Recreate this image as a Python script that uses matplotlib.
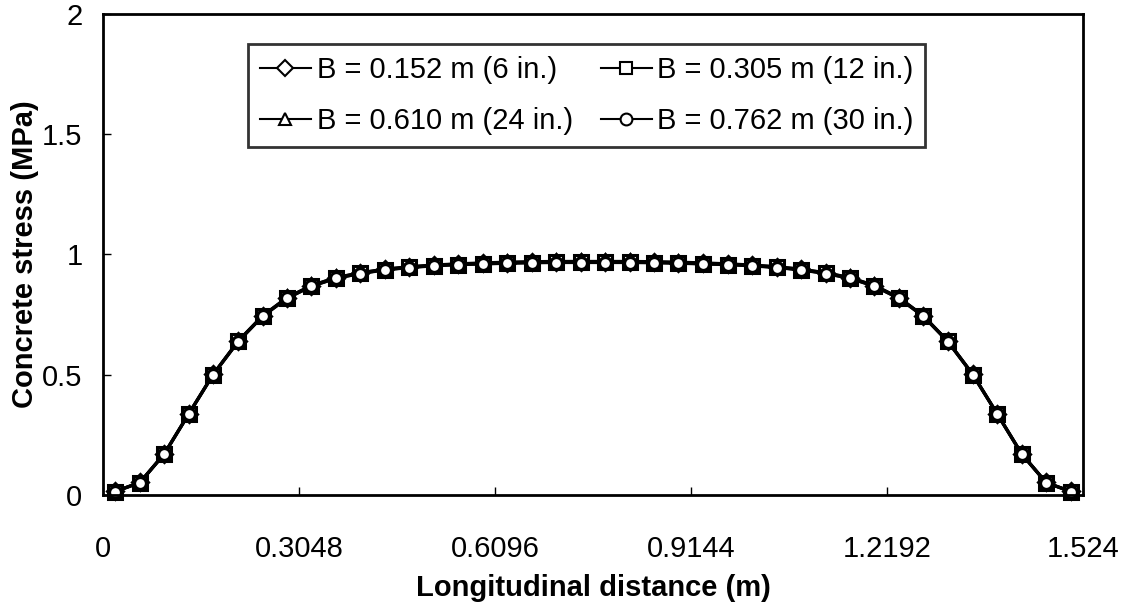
import numpy as np
import matplotlib.pyplot as plt

plt.rcParams["font.family"] = ["Liberation Sans", "DejaVu Sans"]

# measurement stations along the slab (40 stations, 0.0381 m apart)
distance = [0.019, 0.057, 0.095, 0.133, 0.171, 0.210, 0.248, 0.286, 0.324, 0.362,
            0.400, 0.438, 0.476, 0.514, 0.552, 0.591, 0.629, 0.667, 0.705, 0.743,
            0.781, 0.819, 0.857, 0.895, 0.933, 0.972, 1.010, 1.048, 1.086, 1.124,
            1.162, 1.200, 1.238, 1.276, 1.314, 1.353, 1.391, 1.429, 1.467, 1.505]

# concrete stress (MPa) for each bearing width
stress_b6 = [0.015, 0.052, 0.172, 0.338, 0.502, 0.640, 0.745, 0.820, 0.870, 0.903,
             0.923, 0.938, 0.948, 0.955, 0.960, 0.963, 0.966, 0.968, 0.969, 0.969,
             0.969, 0.969, 0.968, 0.966, 0.963, 0.960, 0.955, 0.948, 0.938, 0.923,
             0.903, 0.870, 0.820, 0.745, 0.640, 0.502, 0.338, 0.172, 0.052, 0.015]
stress_b12 = [0.014, 0.051, 0.170, 0.336, 0.500, 0.638, 0.743, 0.818, 0.868, 0.901,
              0.921, 0.936, 0.946, 0.953, 0.958, 0.961, 0.964, 0.966, 0.967, 0.967,
              0.967, 0.967, 0.966, 0.964, 0.961, 0.958, 0.953, 0.946, 0.936, 0.921,
              0.901, 0.868, 0.818, 0.743, 0.638, 0.500, 0.336, 0.170, 0.051, 0.014]
stress_b24 = [0.015, 0.052, 0.171, 0.337, 0.501, 0.640, 0.745, 0.821, 0.871, 0.904,
              0.924, 0.939, 0.949, 0.956, 0.961, 0.965, 0.968, 0.970, 0.971, 0.971,
              0.971, 0.971, 0.970, 0.968, 0.965, 0.961, 0.956, 0.949, 0.939, 0.924,
              0.904, 0.871, 0.821, 0.745, 0.640, 0.501, 0.337, 0.171, 0.052, 0.015]
stress_b30 = [0.014, 0.050, 0.169, 0.335, 0.499, 0.637, 0.742, 0.817, 0.867, 0.900,
              0.920, 0.935, 0.945, 0.952, 0.957, 0.960, 0.963, 0.965, 0.966, 0.966,
              0.966, 0.966, 0.965, 0.963, 0.960, 0.957, 0.952, 0.945, 0.935, 0.920,
              0.900, 0.867, 0.817, 0.742, 0.637, 0.499, 0.335, 0.169, 0.050, 0.014]

labels = ["B = 0.152 m (6 in.)", "B = 0.305 m (12 in.)",
          "B = 0.610 m (24 in.)", "B = 0.762 m (30 in.)"]
x_ticks = [0, 0.3048, 0.6096, 0.9144, 1.2192, 1.524]
x_tick_labels = ["0", "0.3048", "0.6096", "0.9144", "1.2192", "1.524"]
y_ticks = [0, 0.5, 1, 1.5, 2]
y_tick_labels = ["0", "0.5", "1", "1.5", "2"]

fig = plt.figure(figsize=(11.22, 6.05), dpi=100)
ax = fig.add_axes([0.092, 0.182, 0.873, 0.795])

series = [stress_b6, stress_b12, stress_b24, stress_b30]
markers = ["D", "s", "^", "o"]
sizes = [8, 10.5, 9, 8.5]
for vals, mk, ms, lab in zip(series, markers, sizes, labels):
    ax.plot(distance, vals, color="black", lw=2.2, marker=mk,
            markersize=ms, markerfacecolor="white",
            markeredgecolor="black", markeredgewidth=2.2,
            clip_on=False, label=lab)

ax.set_xlim(0, 1.524)
ax.set_ylim(0, 2)
ax.set_xticks(x_ticks)
ax.set_xticklabels(x_tick_labels)
ax.set_yticks(y_ticks)
ax.set_yticklabels(y_tick_labels)
ax.tick_params(direction="in", length=6, width=1, labelsize=21, pad=15)
ax.tick_params(axis="x", pad=29)
for s in ax.spines.values():
    s.set_linewidth(2)

ax.set_xlabel("Longitudinal distance (m)", fontsize=21, fontweight="bold", labelpad=8)
ax.set_ylabel("Concrete stress (MPa)", fontsize=21, fontweight="bold", labelpad=2)

# legend uses thin lines and small hollow markers
leg_handles = []
for mk in markers:
    h, = ax.plot([], [], color="black", lw=1.5, marker=mk, markersize=8.5,
                 markerfacecolor="white", markeredgecolor="black",
                 markeredgewidth=1.5)
    leg_handles.append(h)
order = [0, 2, 1, 3]
leg = ax.legend([leg_handles[i] for i in order], [labels[i] for i in order],
                ncol=2, loc="upper left", bbox_to_anchor=(0.148, 0.937),
                fontsize=21, frameon=True, fancybox=False, edgecolor="black",
                handlelength=1.75, handletextpad=0.2, columnspacing=0.95,
                labelspacing=0.8, borderpad=0.4, borderaxespad=0)
leg.get_frame().set_linewidth(2)

fig.savefig("out.png", dpi=100)
